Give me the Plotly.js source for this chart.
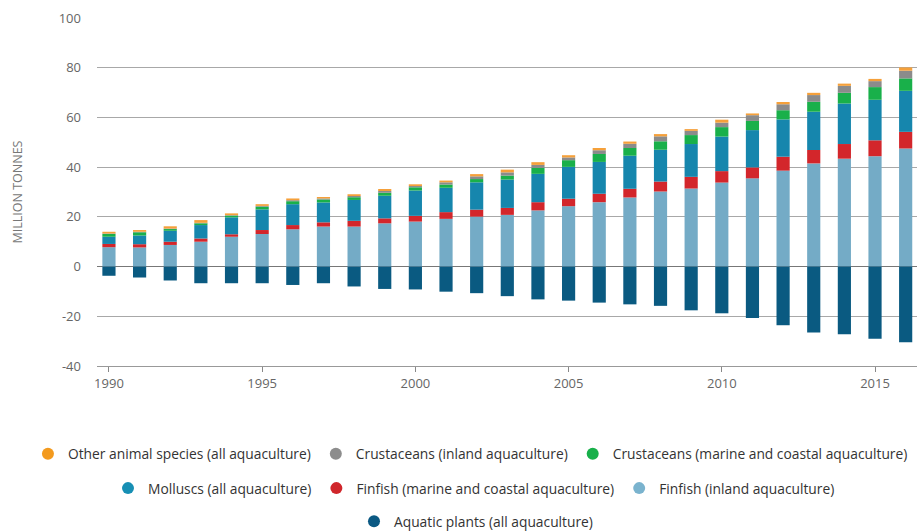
<!DOCTYPE html>
<html>
<head>
<meta charset="utf-8">
<script src="https://cdn.plot.ly/plotly-3.0.1.min.js"></script>
<style>html,body{margin:0;padding:0;background:#fff;}#chart{width:917px;height:531px;}</style>
</head>
<body>
<div id="chart"></div>
<script>
const years = [1990,1991,1992,1993,1994,1995,1996,1997,1998,1999,2000,2001,2002,2003,2004,2005,2006,2007,2008,2009,2010,2011,2012,2013,2014,2015,2016];

const finfishInland = [7.8,7.7,8.7,10.0,12.0,13.1,15.0,16.1,16.1,17.4,18.1,19.2,20.1,20.8,22.6,24.3,25.9,27.8,30.2,31.4,33.8,35.5,38.6,41.5,43.4,44.4,47.5];
const finfishMarine = [1.3,1.3,1.3,1.3,1.0,1.6,1.7,1.7,2.3,2.0,2.3,2.7,2.8,2.8,3.3,3.0,3.4,3.5,4.0,4.7,4.6,4.4,5.6,5.4,5.9,6.4,6.7];
const molluscs = [2.9,3.5,4.4,5.4,6.8,8.3,8.4,8.0,8.4,9.1,10.2,9.8,11.0,11.4,11.4,12.8,12.8,13.3,12.8,13.2,13.9,15.0,15.0,15.4,16.3,16.3,16.5];
const crustMarine = [1.1,1.3,0.7,0.7,0.7,1.1,1.2,1.2,1.1,1.2,1.3,1.3,1.3,1.6,2.4,2.7,3.2,3.1,3.4,3.6,3.8,3.7,3.7,4.0,4.3,5.1,5.0];
const crustInland = [0.2,0.2,0.2,0.2,0.2,0.3,0.4,0.4,0.5,0.7,0.5,0.9,1.1,1.3,1.2,1.1,1.5,1.7,2.0,1.7,1.8,2.3,2.4,2.7,2.8,2.4,3.1];
const otherAnimals = [0.7,0.7,0.9,1.1,0.7,0.7,0.7,0.6,0.7,0.8,0.7,0.7,0.9,1.1,1.1,0.9,0.9,0.9,0.9,0.7,1.2,0.7,0.9,0.9,0.9,0.9,1.3];
const aquaticPlants = [3.7,4.4,5.6,6.7,6.7,6.7,7.4,6.7,8.0,9.0,9.2,10.1,10.7,11.9,13.2,13.7,14.5,15.2,15.8,17.6,18.8,20.7,23.6,26.5,27.2,29.0,30.4];

const yTicks = [-40,-20,0,20,40,60,80,100];
const xTicks = [1990,1995,2000,2005,2010,2015];

const series = [
  {name:'Finfish (inland aquaculture)', values: finfishInland, bar:'#74abc6', dot:'#7ab3ce', legend:'legend2'},
  {name:'Finfish (marine and coastal aquaculture)', values: finfishMarine, bar:'#d3262b', dot:'#d0262b', legend:'legend2'},
  {name:'Molluscs (all aquaculture)', values: molluscs, bar:'#1686ad', dot:'#178fb4', legend:'legend2'},
  {name:'Crustaceans (marine and coastal aquaculture)', values: crustMarine, bar:'#19b04a', dot:'#18b04a', legend:'legend'},
  {name:'Crustaceans (inland aquaculture)', values: crustInland, bar:'#8b8b8b', dot:'#8d8d8d', legend:'legend'},
  {name:'Other animal species (all aquaculture)', values: otherAnimals, bar:'#f5a03a', dot:'#f39a1e', legend:'legend'},
  {name:'Aquatic plants (all aquaculture)', values: aquaticPlants.map(v => -v), bar:'#0a5a81', dot:'#0b5983', legend:'legend3'}
];

const traces = [];
series.forEach(s => {
  traces.push({type:'bar', x: years, y: s.values, name: s.name, marker:{color:s.bar}, showlegend:false, hoverinfo:'x+y+name'});
});
// legend entries (circle symbols), in reference order
const legendOrder = [5,4,3,2,1,0,6];
legendOrder.forEach(i => {
  const s = series[i];
  traces.push({type:'scatter', mode:'markers', x:[null], y:[null], name:s.name, legend:s.legend,
    marker:{color:s.dot, size:12, symbol:'circle'}, showlegend:true, hoverinfo:'skip'});
});

const legendFont = {family:'Open Sans, sans-serif', size:13.8, color:'#333'};
const legendBase = {orientation:'h', xanchor:'left', yanchor:'middle', font:legendFont,
  bgcolor:'rgba(0,0,0,0)', itemwidth:30, traceorder:'normal', itemclick:false};

const layout = {
  width: 917, height: 531,
  margin: {l:97, r:0, t:18, b:165, autoexpand:false},
  paper_bgcolor:'#fff', plot_bgcolor:'#fff',
  barmode:'relative', bargap:0.57,
  font:{family:'Open Sans, sans-serif', color:'#666'},
  xaxis:{range:[1989.61, 2016.37], tickvals:xTicks, ticktext:xTicks.map(String), ticks:'outside', ticklen:5,
    tickcolor:'#888', showline:true, linecolor:'#999', linewidth:1, showgrid:false, zeroline:false,
    tickfont:{family:'Open Sans, sans-serif', size:13, color:'#666'}, fixedrange:true, automargin:false},
  yaxis:{range:[-40,100], tickvals:yTicks, ticktext:yTicks.map(String), showgrid:true, gridcolor:'#a8a8a8', gridwidth:1,
    zeroline:true, zerolinecolor:'#777', zerolinewidth:1.5, ticks:'', ticklabelstandoff:15, showline:false,
    tickfont:{family:'Open Sans, sans-serif', size:13, color:'#666'}, automargin:false,
    title:{text:'MILLION TONNES', font:{family:'Open Sans, sans-serif', size:12.5, color:'#777'}, standoff:33}, fixedrange:true},
  legend: Object.assign({}, legendBase, {x:-0.0842, y:-0.252}),
  legend2: Object.assign({}, legendBase, {x:0.0134, y:-0.351}),
  legend3: Object.assign({}, legendBase, {x:0.3134, y:-0.446})
};

Plotly.newPlot('chart', traces, layout, {displayModeBar:false, staticPlot:true});
</script>
</body>
</html>
